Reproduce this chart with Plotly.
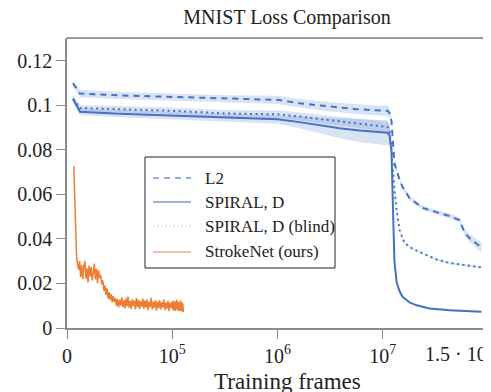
import numpy as np
import plotly.graph_objects as go

# ---------------- data (training frames, loss) ----------------
tick_frames = [0, 1e5, 1e6, 1e7]
tick_labels = ["0", "10<sup>5</sup>", "10<sup>6</sup>", "10<sup>7</sup>"]
end_tick_frame = 1.5e8
end_tick_label = "1.5 · 10<sup>8</sup>"
y_ticks = [0, 0.02, 0.04, 0.06, 0.08, 0.1, 0.12]
y_tick_labels = ["0", "0.02", "0.04", "0.06", "0.08", "0.1", "0.12"]
series_names = ["L2", "SPIRAL, D", "SPIRAL, D (blind)", "StrokeNet (ours)"]

l2_frames = [5.7e3, 1.23e4, 5e4, 1e5, 3.2e5, 1e6, 1.6e6, 2.9e6, 5.6e6, 1.19e7, 1.27e7, 1.36e7,
             1.51e7, 1.81e7, 2.01e7, 2.57e7, 4.06e7, 5.19e7, 7.38e7, 1.05e8, 1.49e8, 1.78e8,
             2.12e8, 3.01e8, 3.24e8]
l2_loss = [0.1100, 0.1053, 0.1045, 0.1038, 0.1029, 0.1025, 0.1010, 0.0996, 0.0983, 0.0976, 0.0965,
           0.0930, 0.0740, 0.0665, 0.0633, 0.0584, 0.0540, 0.0530, 0.0516, 0.0503, 0.0485, 0.0431,
           0.0404, 0.0368, 0.0362]
l2_spread = [0.0015, 0.0016, 0.0016, 0.0016, 0.0017, 0.0018, 0.0019, 0.0021, 0.0022, 0.0023, 0.0022,
             0.0018, 0.0012, 0.0010, 0.0010, 0.0010, 0.0009, 0.0009, 0.0010, 0.0011, 0.0012, 0.0015,
             0.0018, 0.0021, 0.0022]

spiral_frames = [5.7e3, 1.23e4, 5e4, 1e5, 3.16e5, 1e6, 1.62e6, 2.51e6, 3.89e6, 6.03e6, 9.33e6, 1.19e7,
                 1.27e7, 1.36e7, 1.43e7, 1.51e7, 1.63e7, 1.81e7, 2.01e7, 2.57e7, 3.29e7, 5.19e7,
                 1.05e8, 2.12e8, 3.24e8]
spiral_loss = [0.1030, 0.0972, 0.0963, 0.0955, 0.0944, 0.0938, 0.0925, 0.0910, 0.0898, 0.0887, 0.0880,
               0.0877, 0.0865, 0.0800, 0.0550, 0.0300, 0.0207, 0.0165, 0.0140, 0.0115, 0.0102, 0.0088,
               0.0080, 0.0076, 0.0073]
spiral_spread = [0.0015, 0.0015, 0.0016, 0.0017, 0.0018, 0.0020, 0.0028, 0.0036, 0.0045, 0.0052, 0.0056,
                 0.0056, 0.0050, 0.0030, 0.0015, 0.0008, 0.0006, 0.0005, 0.0005, 0.0004, 0.0004, 0.0004,
                 0.0004, 0.0004, 0.0004]

blind_frames = [5.7e3, 1.23e4, 5e4, 1e5, 3.16e5, 1e6, 1.62e6, 2.51e6, 3.89e6, 6.03e6, 9.33e6, 1.19e7,
                1.27e7, 1.36e7, 1.51e7, 1.63e7, 1.81e7, 2.01e7, 2.15e7, 2.86e7, 4.06e7, 6.64e7,
                1.05e8, 2.12e8, 3.24e8]
blind_loss = [0.1028, 0.0988, 0.0983, 0.0976, 0.0964, 0.0960, 0.0950, 0.0940, 0.0928, 0.0918, 0.0908,
              0.0903, 0.0890, 0.0800, 0.0620, 0.0530, 0.0440, 0.0400, 0.0382, 0.0356, 0.0335, 0.0308,
              0.0292, 0.0280, 0.0272]
blind_spread = [0.0014, 0.0014, 0.0015, 0.0015, 0.0016, 0.0017, 0.0018, 0.0019, 0.0020, 0.0021, 0.0022,
                0.0022, 0.0020, 0.0012, 0.0008, 0.0006, 0.0005, 0.0005, 0.0004, 0.0004, 0.0004, 0.0004,
                0.0004, 0.0004, 0.0004]

strokenet_frames = [6500, 7000, 7500, 8000, 8500, 9000, 9500, 10000] + list(range(11000, 129000, 1000))
strokenet_loss = [
    0.0728, 0.0640, 0.0520, 0.0430, 0.0380, 0.0330, 0.0300, 0.0285,
    # plateau
    0.0262, 0.0301, 0.0228, 0.0284, 0.0219, 0.0276, 0.0302, 0.0221, 0.0268, 0.0205, 0.0281,
    0.0232, 0.0274, 0.0214, 0.0262, 0.0289, 0.0218, 0.0267, 0.0201, 0.0259, 0.0226,
    # second drop
    0.0238, 0.0196, 0.0214, 0.0168, 0.0192, 0.0149, 0.0178, 0.0132, 0.0161, 0.0126, 0.0152,
    0.0115, 0.0143, 0.0118,
    # tail
    0.0134, 0.0098, 0.0131, 0.0092, 0.0127, 0.0101, 0.0138, 0.0094, 0.0125, 0.0088, 0.0133,
    0.0097, 0.0141, 0.0091, 0.0122, 0.0086, 0.0129, 0.0099, 0.0124, 0.0083, 0.0135, 0.0093,
    0.0126, 0.0085, 0.0121, 0.0096, 0.0132, 0.0087, 0.0123, 0.0092, 0.0128, 0.0081, 0.0119,
    0.0094, 0.0136, 0.0084, 0.0117, 0.0091, 0.0125, 0.0078, 0.0118, 0.0089, 0.0124, 0.0083,
    0.0116, 0.0092, 0.0129, 0.0080, 0.0115, 0.0087, 0.0122, 0.0076, 0.0114, 0.0090, 0.0120,
    0.0082, 0.0113, 0.0079, 0.0123, 0.0086, 0.0111, 0.0077, 0.0118, 0.0085, 0.0127, 0.0083,
    0.0112, 0.0078, 0.0119, 0.0084, 0.0115, 0.0075, 0.0110, 0.0088, 0.0124, 0.0080, 0.0113,
    0.0074, 0.0116, 0.0082, 0.0109, 0.0071, 0.0090,
]

# ---------------- axis transform (linear to 1e5, then log decades) ----------------
TOP_SEGMENT = 0.73  # axis span from 1e7 to the 1.5e8 tick


def to_axis(frames):
    f = np.atleast_1d(np.asarray(frames, dtype=float))
    out = np.empty_like(f)
    lin = f <= 1e5
    out[lin] = f[lin] / 1e5
    mid = (f > 1e5) & (f <= 1e7)
    out[mid] = np.log10(f[mid]) - 4
    hi = f > 1e7
    out[hi] = 3 + (np.log10(f[hi]) - 7) / np.log10(15) * TOP_SEGMENT
    return out


BLUE = "#4472c4"
BAND = "rgba(68,114,196,0.2)"
ORANGE = "#ed7d31"
FONT = "Liberation Serif, Times New Roman, serif"
TXT = "#222222"

# page body has an 8px margin: figure is sized so the plot area lands where the reference has it
W, H = 483, 384
ML, MR, MT, MB = 59, 3, 30, 64
PW, PH = W - ML - MR, H - MT - MB


def px_x(px):  # window pixel -> paper x
    return (px - 8 - ML) / PW


def px_y(py):  # window pixel -> paper y
    return (H - MB + 8 - py) / PH


fig = go.Figure()


def add_band(frames, loss, spread):
    x = to_axis(frames)
    lo = np.array(loss) - np.array(spread)
    hi = np.array(loss) + np.array(spread)
    fig.add_trace(go.Scatter(x=x, y=lo, mode="lines", line=dict(width=0), showlegend=False,
                             hoverinfo="skip"))
    fig.add_trace(go.Scatter(x=x, y=hi, mode="lines", line=dict(width=0), fill="tonexty",
                             fillcolor=BAND, showlegend=False, hoverinfo="skip"))


add_band(l2_frames, l2_loss, l2_spread)
add_band(spiral_frames, spiral_loss, spiral_spread)
add_band(blind_frames, blind_loss, blind_spread)

fig.add_trace(go.Scatter(x=to_axis(l2_frames), y=l2_loss, mode="lines", name=series_names[0],
                         showlegend=False, line=dict(color=BLUE, width=2, dash="6px,5px")))
fig.add_trace(go.Scatter(x=to_axis(spiral_frames), y=spiral_loss, mode="lines", name=series_names[1],
                         showlegend=False, line=dict(color=BLUE, width=2)))
fig.add_trace(go.Scatter(x=to_axis(blind_frames), y=blind_loss, mode="lines", name=series_names[2],
                         showlegend=False, line=dict(color=BLUE, width=2, dash="2px,3.5px")))
fig.add_trace(go.Scatter(x=to_axis(strokenet_frames), y=strokenet_loss, mode="lines",
                         name=series_names[3], showlegend=False,
                         line=dict(color=ORANGE, width=1.5)))

# hand-built legend box (like the reference's)
legend_styles = [
    ("#6f93d6", 1.5, "6px,5px"),
    ("#7d9fd3", 1.5, "solid"),
    ("#a3b8e0", 1.2, "1px,3px"),
    ("#f5a88a", 1.5, "solid"),
]
row_py = [178, 202, 226, 252]
shapes = [
    dict(type="line", xref="paper", yref="paper", x0=0, x1=1, y0=1, y1=1,
         line=dict(color="#333333", width=1)),
    dict(type="line", xref="paper", yref="paper", x0=1, x1=1, y0=0, y1=1,
         line=dict(color="#333333", width=1)),
    dict(type="rect", xref="paper", yref="paper", x0=px_x(145), x1=px_x(335), y0=px_y(268),
         y1=px_y(157), line=dict(color=TXT, width=1), fillcolor="white", layer="above"),
]
annotations = [
    dict(text="Training frames", xref="paper", yref="paper", x=px_x(287), y=px_y(381),
         xanchor="center", yanchor="middle", showarrow=False,
         font=dict(family=FONT, size=23, color=TXT)),
    dict(text=end_tick_label, xref="x", yref="paper", x=float(to_axis(end_tick_frame)[0]),
         y=px_y(339), xanchor="center", yanchor="top", showarrow=False,
         font=dict(family=FONT, size=20, color=TXT)),
]
for name, (col, w, dash), py in zip(series_names, legend_styles, row_py):
    shapes.append(dict(type="line", xref="paper", yref="paper", x0=px_x(153), x1=px_x(191),
                       y0=px_y(py), y1=px_y(py), line=dict(color=col, width=w, dash=dash),
                       layer="above"))
    annotations.append(dict(text=name, xref="paper", yref="paper", x=px_x(203), y=px_y(py),
                            xanchor="left", yanchor="middle", showarrow=False,
                            font=dict(family=FONT, size=17, color=TXT)))

fig.update_layout(
    width=W, height=H,
    margin=dict(l=ML, r=MR, t=MT, b=MB, autoexpand=False),
    paper_bgcolor="white", plot_bgcolor="white",
    font=dict(family=FONT, color=TXT),
    title=dict(text="MNIST Loss Comparison", font=dict(family=FONT, size=20, color=TXT),
               x=px_x(287) * PW / W + ML / W, xanchor="center", y=1 - 8.5 / H, yanchor="middle",
               yref="container"),
    showlegend=False,
    annotations=annotations,
    shapes=shapes,
)

fig.update_xaxes(range=[0, 4.0], tickvals=to_axis(tick_frames), ticktext=tick_labels,
                 automargin=False,
                 showgrid=False, zeroline=False, showline=True, linecolor="#8c8c8c", linewidth=1.5,
                 ticks="outside", ticklen=9, tickcolor="#8c8c8c", tickwidth=1,
                 tickfont=dict(family=FONT, size=20, color=TXT))
fig.update_yaxes(range=[0, 0.1303], tickvals=y_ticks, ticktext=y_tick_labels,
                 automargin=False,
                 showgrid=False, zeroline=False, showline=True, linecolor="#8c8c8c", linewidth=1.5,
                 ticks="outside", ticklen=9, tickcolor="#8c8c8c", tickwidth=1,
                 tickfont=dict(family=FONT, size=20, color=TXT))

fig.write_html("out.html")
